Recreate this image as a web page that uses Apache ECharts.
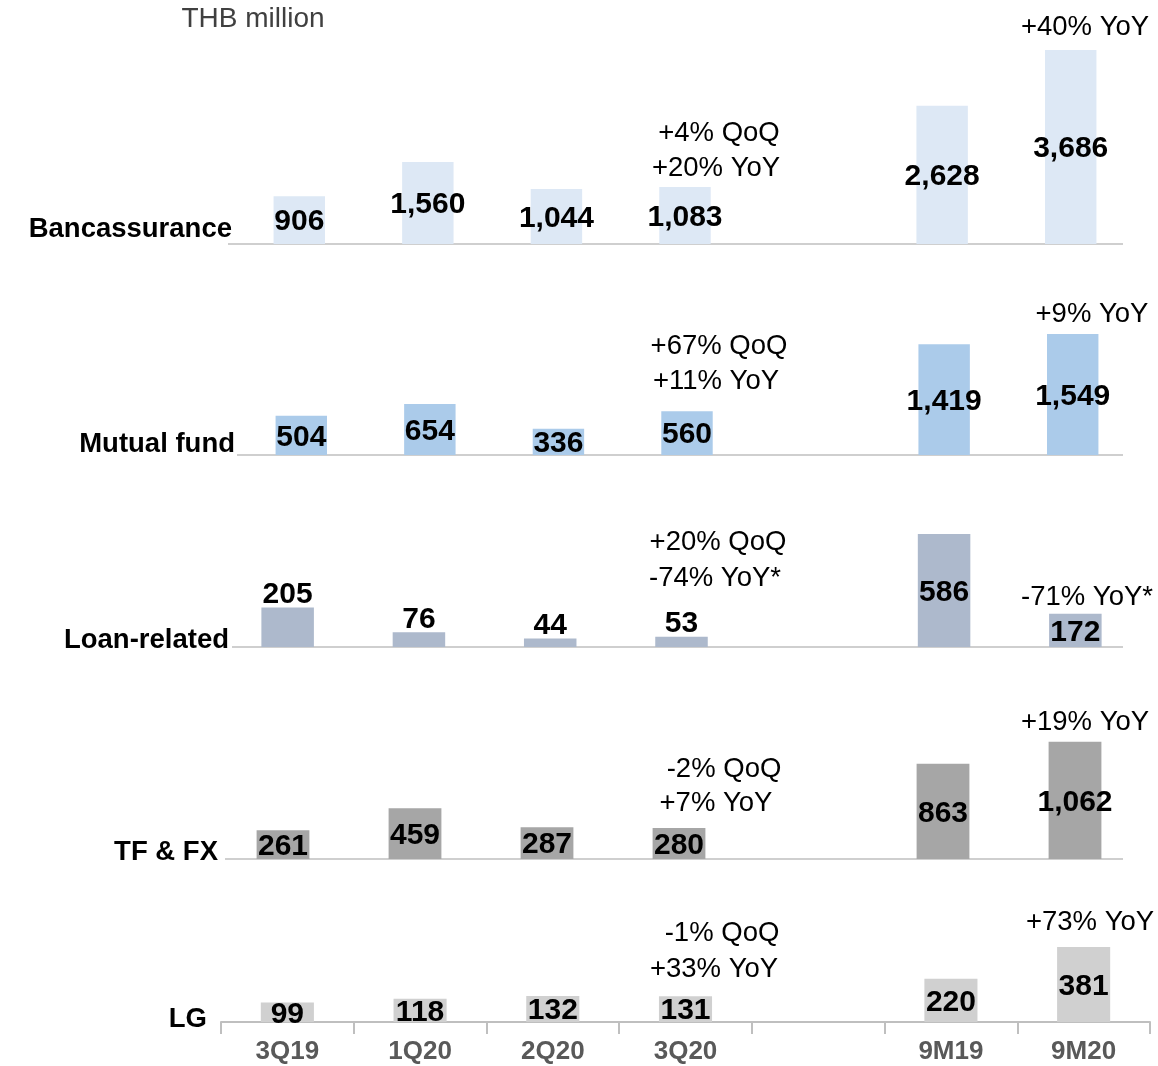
<!DOCTYPE html>
<html><head><meta charset="utf-8">
<script src="https://cdn.jsdelivr.net/npm/echarts@6/dist/echarts.min.js"></script>
<style>html,body{margin:0;padding:0;background:#fff}#c{width:1158px;height:1066px}</style>
</head><body><div id="c"></div>
<script>
const categories = ['3Q19','1Q20','2Q20','3Q20','','9M19','9M20'];
const bancassurance = [906, 1560, 1044, 1083, null, 2628, 3686];
const mutualFund = [504, 654, 336, 560, null, 1419, 1549];
const loanRelated = [205, 76, 44, 53, null, 586, 172];
const tfFx = [261, 459, 287, 280, null, 863, 1062];
const lg = [99, 118, 132, 131, null, 220, 381];
const panelNames = ['Bancassurance','Mutual fund','Loan-related','TF & FX','LG'];
const loanLabelPlacement = ['top','top','top','top',null,'inside','inside'];
const annotations = [
  ['+4% QoQ','+20% YoY','+40% YoY'],
  ['+67% QoQ','+11% YoY','+9% YoY'],
  ['+20% QoQ','-74% YoY*','-71% YoY*'],
  ['-2% QoQ','+7% YoY','+19% YoY'],
  ['-1% QoQ','+33% YoY','+73% YoY']
];

const FONT = '"Liberation Sans", Arial, Helvetica, sans-serif';
const panels = [
  {vals: bancassurance, color:'#dde8f5', left:235, width:900, top:44, height:200, max:3800, line:[228,1123], nameX:232, nameY:229,
   ann:[[719,133],[716,168],[1085,27]]},
  {vals: mutualFund, color:'#abcbea', left:237, width:900, top:325, height:130, max:1664, line:[237,1123], nameX:235, nameY:444,
   ann:[[719,346],[716,381],[1092,314]]},
  {vals: loanRelated, color:'#adb9cc', left:222, width:919, top:527, height:120, max:622, line:[232,1123], nameX:229, nameY:640,
   ann:[[718,542],[715,578],[1087,597]]},
  {vals: tfFx, color:'#a6a6a6', left:217, width:924, top:739, height:120, max:1086, line:[225,1123], nameX:218, nameY:852,
   ann:[[724,769],[716,803],[1085,722]]},
  {vals: lg, color:'#d0d0d0', left:221, width:929, top:942, height:80, max:406, line:null, nameX:207, nameY:1019,
   ann:[[722,933],[714,969],[1090,922]]}
];

const fmt = v => v.toLocaleString('en-US');
const grid = [], xAxis = [], yAxis = [], series = [], graphic = [];

panels.forEach((p, i) => {
  grid.push({left:p.left, width:p.width, top:p.top, height:p.height, containLabel:false});
  const isLast = i === panels.length - 1;
  xAxis.push({
    type:'category', gridIndex:i, data:categories, boundaryGap:true,
    show:true,
    axisLine:{show:isLast, lineStyle:{color:'#bfbfbf', width:2}},
    axisTick:{show:isLast, length:12, lineStyle:{color:'#bfbfbf', width:2}, alignWithLabel:false},
    axisLabel:{show:isLast, color:'#595959', fontWeight:'bold', fontSize:26, fontFamily:FONT, margin:17},
    splitLine:{show:false}
  });
  yAxis.push({type:'value', gridIndex:i, min:0, max:p.max, show:false});
  const data = p.vals.map((v, k) => {
    if (v === null) return '-';
    const item = {value:v};
    if (i === 2 && loanLabelPlacement[k] === 'top') {
      item.label = {position:'top', distance:0};
    }
    return item;
  });
  series.push({
    type:'bar', xAxisIndex:i, yAxisIndex:i, data:data, barWidth:'40%',
    itemStyle:{color:p.color},
    label:{show:true, position:'inside', offset:[0,2], color:'#000', fontWeight:'bold', fontSize:30, fontFamily:FONT,
      formatter: d => fmt(d.value)},
    silent:true, animation:false
  });
  if (p.line) {
    graphic.push({type:'line', shape:{x1:p.line[0], y1:p.top+p.height, x2:p.line[1], y2:p.top+p.height},
      style:{stroke:'#cfcfcf', lineWidth:2}, z:1});
  }
  graphic.push({type:'text', x:p.nameX, y:p.nameY,
    style:{text:panelNames[i], fill:'#000', font:'bold 27.5px '+FONT, textAlign:'right', textVerticalAlign:'middle'}});
  annotations[i].forEach((t, j) => {
    graphic.push({type:'text', x:p.ann[j][0], y:p.ann[j][1],
      style:{text:t, fill:'#000', font:'27.5px '+FONT, textAlign:'center', textVerticalAlign:'middle'}});
  });
});

graphic.push({type:'text', x:253, y:19,
  style:{text:'THB million', fill:'#404040', font:'28px '+FONT, textAlign:'center', textVerticalAlign:'middle'}});

const chart = echarts.init(document.getElementById('c'), null, {renderer:'canvas'});
chart.setOption({animation:false, backgroundColor:'#fff', grid, xAxis, yAxis, series, graphic});
</script></body></html>
